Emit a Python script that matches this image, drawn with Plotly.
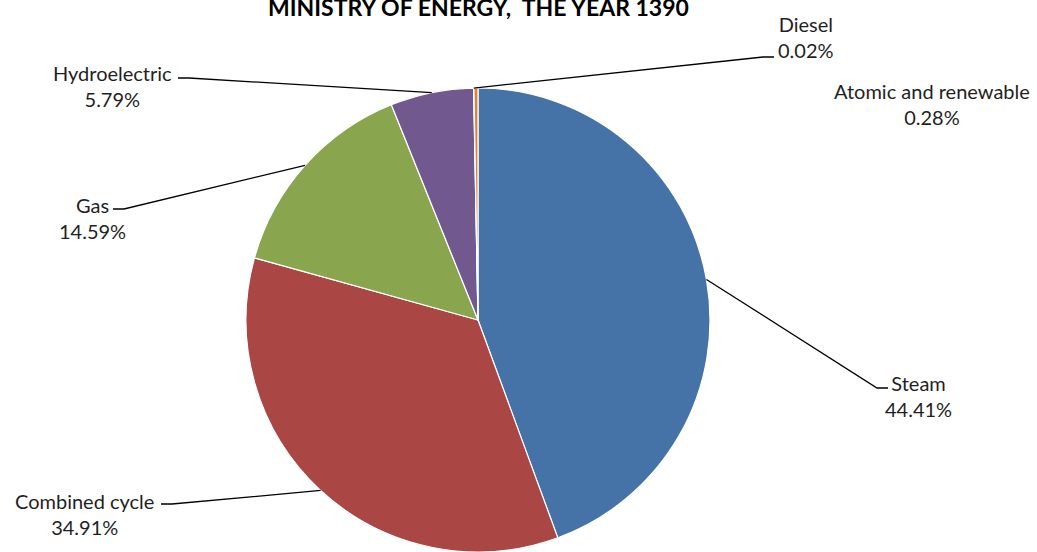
import math
import plotly.graph_objects as go

# Electricity generation share by plant type
categories = ["Steam", "Combined cycle", "Gas", "Hydroelectric", "Diesel", "Atomic and renewable"]
shares = [44.41, 34.91, 14.59, 5.79, 0.02, 0.28]
colors = ["#4572A7", "#AA4643", "#89A54E", "#71588F", "#4198AF", "#DB843D"]
title_text = "MINISTRY OF ENERGY,  THE YEAR 1390"

W, H = 1037, 552
# pie placement in pixels (centre and radius)
CX, CY, R = 478, 320, 232

# label block centres (px) and leader-line elbow/end points (px); None = no leader
label_pos = {
    "Steam": (918, 396),
    "Combined cycle": (84, 514),
    "Gas": (92, 218),
    "Hydroelectric": (112, 86),
    "Diesel": (806, 37),
    "Atomic and renewable": (932, 104),
}
leaders = {
    "Steam": [(877, 388), (888, 388)],
    "Combined cycle": [(172, 504), (161, 504)],
    "Gas": [(124, 209), (113, 209)],
    "Hydroelectric": [(189, 78), (178, 78)],
    "Diesel": [(763, 57), (774, 57)],
    "Atomic and renewable": None,
}


def px(x):
    return x / W


def py(y):
    return 1 - y / H


FONT = "Lato"
TEXT_COLOR = "#1f1f1f"

fig = go.Figure(
    go.Pie(
        labels=categories,
        values=shares,
        sort=False,
        direction="clockwise",
        rotation=0,
        marker=dict(colors=colors, line=dict(color="#ffffff", width=1.2)),
        textinfo="none",
        hoverinfo="label+percent",
        showlegend=False,
        domain=dict(x=[px(CX - R), px(CX + R)], y=[py(CY + R), py(CY - R)]),
    )
)

total = sum(shares)
annotations = []
shapes = []
cum = 0.0
for name, val in zip(categories, shares):
    mid = (cum + val / 2) / total * 2 * math.pi
    cum += val
    sx = CX + R * math.sin(mid)
    sy = CY - R * math.cos(mid)
    lx, ly = label_pos[name]
    annotations.append(
        dict(
            x=px(lx), y=py(ly), xref="paper", yref="paper",
            text=f"{name}<br>{val:.2f}%", showarrow=False,
            xanchor="center", yanchor="middle", align="center",
            font=dict(family=FONT, size=20, color=TEXT_COLOR),
        )
    )
    pts = leaders[name]
    if pts:
        path_pts = [(sx, sy)] + pts
        path = "M " + " L ".join(f"{px(x):.5f},{py(y):.5f}" for x, y in path_pts)
        shapes.append(
            dict(type="path", path=path, xref="paper", yref="paper",
                 line=dict(color="#000000", width=1.3))
        )

annotations.append(
    dict(
        x=px(478), y=py(23), xref="paper", yref="paper",
        text=f"<b>{title_text}</b>", showarrow=False,
        xanchor="center", yanchor="bottom",
        font=dict(family=FONT, size=23, color="#000000"),
    )
)

fig.update_layout(
    width=W, height=H,
    margin=dict(l=0, r=0, t=0, b=0),
    paper_bgcolor="#ffffff",
    plot_bgcolor="#ffffff",
    annotations=annotations,
    shapes=shapes,
)

fig.write_html("out.html")
